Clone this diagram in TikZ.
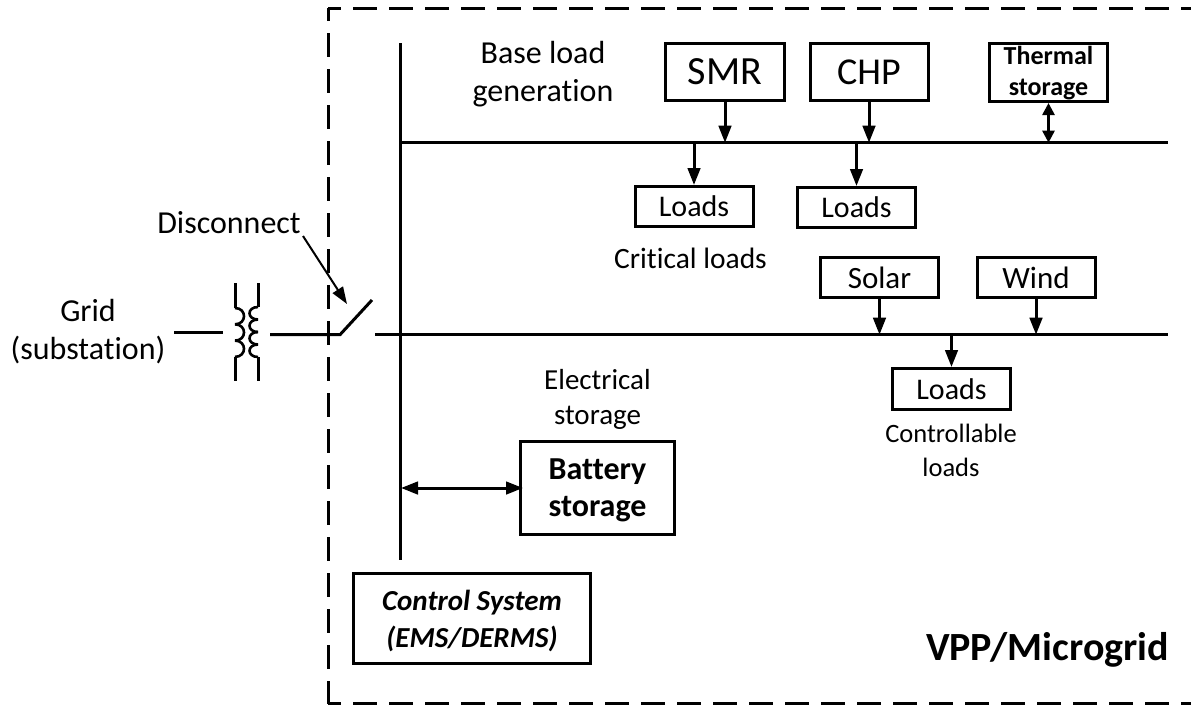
\documentclass[tikz,border=0pt]{standalone}
\usepackage{fontspec}
\setmainfont{Carlito}[RawFeature={-liga;-clig}]
\usepackage{tikz}
\usetikzlibrary{arrows.meta,calc,positioning}
\newcommand{\fsz}[2]{\fontsize{#1}{#2}\selectfont}
\tikzset{
    mybox/.style={draw=black,line width=3pt,fill=white,inner sep=0pt,align=center,text depth=0pt},
    mybus/.style={draw=black,line width=3pt},
    mydash/.style={draw=black,line width=3pt,dash pattern=on 24pt off 12pt,dash phase=11pt},
    myarrow/.style={draw=black,line width=3pt,-{Triangle[length=17pt,width=12.5pt]}},
    mydouble/.style={draw=black,line width=3pt,{Triangle[length=17pt,width=12.5pt]}-{Triangle[length=17pt,width=12.5pt]}},
    mysmall/.style={draw=black,line width=2.6pt,{Triangle[length=12pt,width=12pt]}-{Triangle[length=12pt,width=12pt]}},
    mylabel/.style={inner sep=0pt,align=center,text depth=0pt}
}
\begin{document}
\begin{tikzpicture}[x=1pt,y=-1pt]
  \useasboundingbox (0,0) rectangle (1191,705);
  % boundary
  \draw[mydash] (328,8)--(1191,8);
  \draw[mydash] (328,8)--(328,703.5);
  \draw[mydash] (328,703.5)--(1191,703.5);
  % busbars
  \coordinate (BusV1) at (400,43);
  \coordinate (BusV2) at (400,560);
  \coordinate (BusA1) at (400,142.7);
  \coordinate (BusA2) at (1168,142.7);
  \coordinate (BusB1) at (375,334.7);
  \coordinate (BusB2) at (1168,334.7);
  \coordinate (BusC) at (401,488);
  \draw[mybus] (BusV1)--(BusV2);
  \draw[mybus] (BusA1)--(BusA2);
  \draw[mybus] (BusB1)--(BusB2);
  % boxes
  \node[mybox,minimum width=119pt,minimum height=57pt,font=\fsz{40}{46}] (smr) at (725,72) {SMR};
  \node[mybox,minimum width=118pt,minimum height=57pt,font=\fsz{38}{46}] (chp) at (869,72) {CHP};
  \node[mybox,minimum width=118pt,minimum height=58pt,text depth=3pt,font=\fsz{26}{31}\bfseries] (thermal) at (1048.5,72.5) {Thermal\\storage};
  \node[mybox,minimum width=118pt,minimum height=40pt,font=\fsz{30}{36}] (loadsa) at (694,206.5) {Loads};
  \node[mybox,minimum width=118pt,minimum height=40pt,font=\fsz{30}{36}] (loadsb) at (856.5,207.5) {Loads};
  \node[mybox,minimum width=118pt,minimum height=40pt,font=\fsz{31}{36}] (solar) at (879.5,277.5) {Solar};
  \node[mybox,minimum width=118pt,minimum height=40pt,font=\fsz{31}{36}] (wind) at (1036,277.5) {Wind};
  \node[mybox,minimum width=118pt,minimum height=41pt,font=\fsz{30}{36}] (loadsc) at (951.5,389) {Loads};
  \node[mybox,minimum width=154pt,minimum height=93pt,font=\fsz{32}{37}\bfseries] (battery) at (597.5,488) {Battery\\storage};
  \node[mybox,minimum width=237pt,minimum height=90pt,font=\fsz{29}{37}\bfseries\itshape] (control) at (472,618.5) {Control System\\(EMS/DERMS)};
  % labels
  \node[mylabel,font=\fsz{32}{38}] (base) at (543,71) {Base load\\generation};
  \node[mylabel,font=\fsz{29.5}{36}] (critical) at (690.5,258) {Critical loads};
  \node[mylabel,font=\fsz{26.5}{34}] (controllable) at (951,450) {Controllable\\loads};
  \node[mylabel,font=\fsz{29}{35}] (electrical) at (597.5,397) {Electrical\\storage};
  \node[mylabel,font=\fsz{32}{38}] (disconnect) at (229,222) {Disconnect};
  \node[mylabel,font=\fsz{32}{38}] (grid) at (88,329) {Grid\\(substation)};
  \node[mylabel,font=\fsz{40}{46}\bfseries] (vpp) at (1047.5,646) {VPP/Microgrid};
  % arrows
  \draw[myarrow] (smr.south)--(smr.south|-BusA1);
  \draw[myarrow] (chp.south)--(chp.south|-BusA1);
  \draw[mysmall] (thermal.south)--(thermal.south|-BusA1);
  \draw[myarrow] (loadsa.north|-BusA1)--(loadsa.north);
  \draw[myarrow] (loadsb.north|-BusA1)--(loadsb.north);
  \draw[myarrow] (solar.south)--(solar.south|-BusB1);
  \draw[myarrow] (wind.south)--(wind.south|-BusB1);
  \draw[myarrow] (loadsc.north|-BusB1)--(loadsc.north);
  \draw[mydouble] (BusC)--([xshift=4pt]battery.west);
  % grid side, transformer and switch
  \coordinate (GridL) at (174,332);
  \coordinate (GridR) at (223,332);
  \coordinate (SwA) at (270,334.7);
  \coordinate (SwB) at (340,334.7);
  \coordinate (SwC) at (372,300);
  \draw[mybus] (GridL)--(GridR);
  \draw[mybus] (SwA)--(SwB)--(SwC);
  \draw[mybus] (235,283)--(235,308);
  \draw[mybus] (235,357)--(235,381);
  \draw[mybus] (258,283)--(258,307);
  \draw[mybus] (258,357)--(258,381);
  \foreach \y in {308,324.3,340.6}
    \draw[black,line width=2.6pt] (235,\y) .. controls (247,\y) and (247,\y+16.3) .. (235,\y+16.3);
  \foreach \y in {307,319.5,332,344.5}
    \draw[black,line width=2.6pt] (258,\y) .. controls (246.7,\y) and (246.7,\y+12.5) .. (258,\y+12.5);
  \coordinate (DiscA) at (303,236);
  \coordinate (DiscB) at (347,304);
  \draw[draw=black,line width=2pt,-{Triangle[length=17pt,width=12pt]}] (DiscA)--(DiscB);
\end{tikzpicture}
\end{document}
